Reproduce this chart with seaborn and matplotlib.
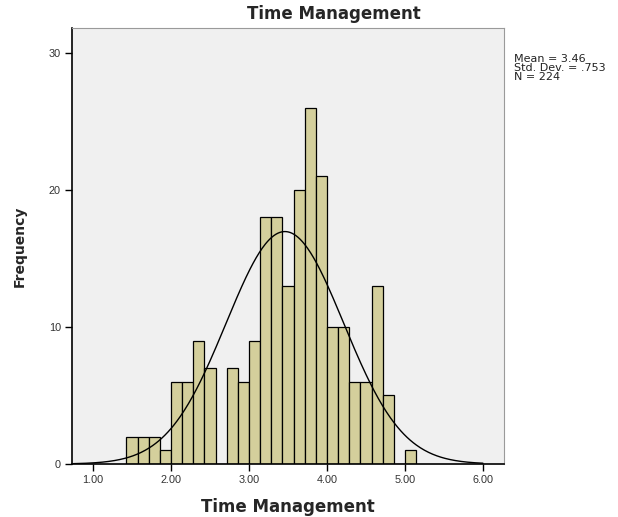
import numpy as np
import pandas as pd
import matplotlib
matplotlib.use("Agg")
import matplotlib.pyplot as plt
import seaborn as sns

# ---- data ----
bin_start = 10 / 7          # left edge of the first bin
bin_width = 1 / 7           # SPSS bin width
counts = [2, 2, 2, 1, 6, 6, 9, 7, 0, 7, 6, 9, 18, 18, 13, 20, 26, 21,
          10, 10, 6, 6, 13, 5, 0, 1]
mean_val = 3.46
sd_val = 0.753
n_val = 224
x_ticks = [1.0, 2.0, 3.0, 4.0, 5.0, 6.0]
y_ticks = [0, 10, 20, 30]
title = "Time Management"
x_label = "Time Management"
y_label = "Frequency"

# ---- build table ----
nb = len(counts)
edges = bin_start + bin_width * np.arange(nb + 1)
centers = (edges[:-1] + edges[1:]) / 2
df = pd.DataFrame({"score": centers, "count": counts})

sns.set_theme(style="white")
plt.rcParams["font.family"] = ["Liberation Sans", "DejaVu Sans"]

fig = plt.figure(figsize=(6.18, 5.17), dpi=100)
ax = fig.add_axes([72 / 618, 1 - 464 / 517, (504 - 72) / 618, (464 - 28) / 517])
ax.set_facecolor("#f0f0f0")

sns.histplot(data=df, x="score", weights="count", bins=[float(e) for e in edges], ax=ax,
             color="#d4cf9c", alpha=1.0, edgecolor="black", linewidth=0.9)

# normal curve
xs = np.linspace(0.75, 6.0, 400)
ys = n_val * bin_width * np.exp(-0.5 * ((xs - mean_val) / sd_val) ** 2) / (sd_val * np.sqrt(2 * np.pi))
sns.lineplot(x=xs, y=ys, ax=ax, color="black", linewidth=1.0)

ax.set_xlim(0.73, 6.27)
ax.set_ylim(0, 31.8)
ax.set_xticks(x_ticks)
ax.set_xticklabels([f"{t:.2f}" for t in x_ticks], fontsize=7.8, color="#333333")
ax.set_yticks(y_ticks)
ax.set_yticklabels([str(t) for t in y_ticks], fontsize=7.8, color="#333333")
ax.tick_params(axis="both", direction="out", length=5, width=1.0, color="black",
               bottom=True, left=True, pad=3)

for s in ["left", "bottom"]:
    ax.spines[s].set_color("black")
    ax.spines[s].set_linewidth(1.2)
for s in ["top", "right"]:
    ax.spines[s].set_color("#9a9a9a")
    ax.spines[s].set_linewidth(0.8)

ax.set_xlabel(x_label, fontsize=12, fontweight="bold", labelpad=9,
              family=["DejaVu Sans"])
ax.set_ylabel(y_label, fontsize=10, fontweight="bold", labelpad=16,
              family=["DejaVu Sans"])
fig.text(334 / 618, 1 - 14 / 517, title, ha="center", va="center",
         fontsize=12, fontweight="bold", family=["DejaVu Sans"])

fig.text(514 / 618, 1 - 54 / 517,
         f"Mean = {mean_val:.2f}\nStd. Dev. = {str(sd_val)[1:]}\nN = {n_val}",
         ha="left", va="top", fontsize=8, linespacing=0.85, color="#222222",
         family=["DejaVu Sans"])

fig.savefig("out.png", dpi=100, facecolor="white")
